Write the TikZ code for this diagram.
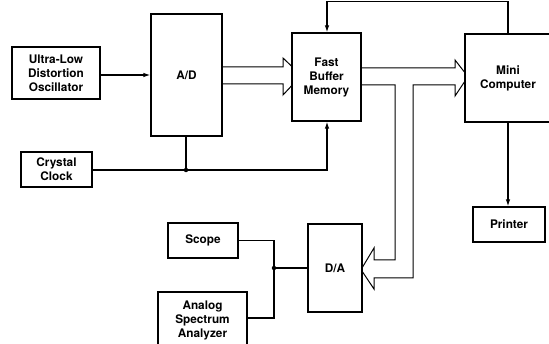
\documentclass[tikz,border=0pt]{standalone}
\usepackage{fontspec}
\setmainfont{TeX Gyre Heros}
\usetikzlibrary{arrows.meta}
\tikzset{
  box/.style={draw, line width=1.2pt, inner sep=0pt, align=center,
    font=\fontsize{11.8}{14}\selectfont\bfseries},
  conn/.style={line width=1.2pt},
  arr/.style={conn, -{Latex[length=7pt,width=4.5pt]}},
  wide/.style={line width=1pt, line join=miter},
  dot/.style={circle, fill, inner sep=0pt, minimum size=4.5pt}
}
\begin{document}
\begin{tikzpicture}[x=1pt,y=-1pt]
\useasboundingbox (0,0) rectangle (549,344);
\clip (0,0) rectangle (549,344);
% boxes
\node[box, minimum width=88pt, minimum height=52pt] (osc) at (56,73) {Ultra-Low\\Distortion\\Oscillator};
\node[box, minimum width=71pt, minimum height=122pt] (ad) at (186.5,75) {A/D};
\node[box, minimum width=71pt, minimum height=35pt] (clock) at (56.5,169.5) {Crystal\\Clock};
\node[box, minimum width=69pt, minimum height=88pt] (fbm) at (326.5,77) {Fast\\Buffer\\Memory};
\node[box, minimum width=86pt, minimum height=88pt] (mini) at (508,78) {Mini\\Computer};
\node[box, minimum width=72pt, minimum height=35pt] (printer) at (509,224.5) {Printer};
\node[box, minimum width=54pt, minimum height=88pt] (da) at (335,268) {D/A};
\node[box, minimum width=70pt, minimum height=35pt] (scope) at (203,240.5) {Scope};
\node[box, minimum width=89pt, minimum height=56pt] (asa) at (202.5,320) {Analog\\Spectrum\\Analyzer};
% junctions
\coordinate (jc) at (186,170);
\coordinate (js) at (274,268);
\node[dot] (jcd) at (jc) {};
\node[dot] (jsd) at (js) {};
% oscillator -> A/D
\draw[arr] (osc.east |- 0,75) -- (ad.west |- 0,75);
% clock
\draw[conn] (clock.east |- jc) -- (jc);
\draw[conn] (ad.south -| jc) -- (jc);
\draw[arr] (jc) -- (327,170) -- (fbm.south -| 327,0);
% mini -> fbm over the top
\draw[arr] (mini.north) -- (mini.north |- 0,1.5) -- (327,1.5) -- (fbm.north -| 327,0);
% mini -> printer
\draw[arr] (mini.south) -- (printer.north -| mini.south);
% wide arrow A/D -> FBM
\draw[wide] (ad.east |- 0,67) -- (283,67) -- (283,58) -- (fbm.west |- 0,66);
\draw[wide] (ad.east |- 0,84) -- (283,84) -- (283,95) -- (fbm.west |- 0,86);
% wide arrow FBM -> Mini
\draw[wide] (fbm.east |- 0,68) -- (455,68) -- (455,60) -- (mini.west |- 0,72);
\draw[wide] (mini.west |- 0,82) -- (455,96) -- (455,85) -- (413,85) -- (413,278) -- (374,278) -- (374,289) -- (da.east |- 0,272);
\draw[wide] (fbm.east |- 0,85) -- (395,85) -- (395,260) -- (374,260) -- (374,248) -- (da.east |- 0,267);
% scope / analyzer -> D/A
\draw[conn] (scope.east) -- (scope.east -| js) -- (js |- 0,318) -- (asa.east |- 0,318);
\draw[conn] (js) -- (da.west |- js);
\end{tikzpicture}
\end{document}
